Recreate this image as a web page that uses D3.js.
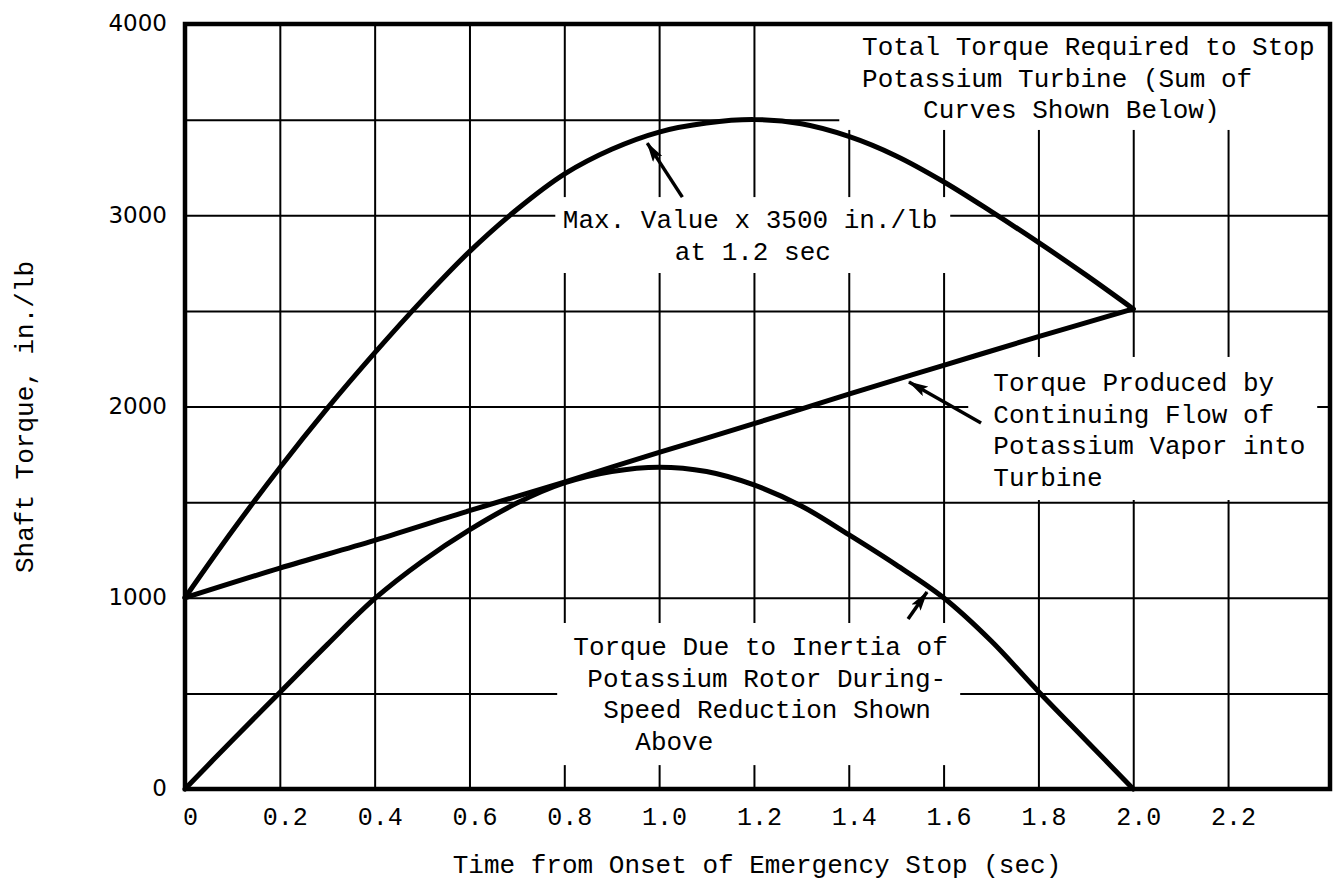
<!DOCTYPE html>
<html>
<head>
  <meta charset="utf-8">
  <title>Shaft Torque during Emergency Stop</title>
  <style>
  body { margin: 0; background: #fff; }
  svg { display: block; }
  .mono { font-family: "Liberation Mono", "DejaVu Sans Mono", monospace; }
  </style>
</head>
<body>
  <svg width="1340" height="880"></svg>
  <script src="https://d3js.org/d3.v7.min.js"></script>
  <script>
    // readings taken off the plot (sec, in./lb)
    var timeSec = [0, 0.1, 0.2, 0.3, 0.4, 0.5, 0.6, 0.7, 0.8, 0.9, 1.0,
                   1.1, 1.2, 1.3, 1.4, 1.5, 1.6, 1.7, 1.8, 1.9, 2.0];
    var totalTorque = [1000, 1350, 1680, 1990, 2280, 2555, 2810, 3030, 3215, 3345, 3435,
                       3482, 3500, 3478, 3412, 3310, 3175, 3020, 2858, 2688, 2510];
    var inertiaTorque = [0, 255, 505, 755, 995, 1190, 1355, 1495, 1600, 1660, 1683,
                         1660, 1590, 1480, 1330, 1172, 1000, 775, 510, 255, 0];
    var flowTime = [0, 0.2, 0.4, 0.6, 0.8, 1.0, 1.2, 1.4, 1.6, 1.8, 2.0];
    var flowTorque = [1000, 1155, 1300, 1455, 1605, 1760, 1910, 2065, 2215, 2365, 2510];

    var xTicks = [0, 0.2, 0.4, 0.6, 0.8, 1.0, 1.2, 1.4, 1.6, 1.8, 2.0, 2.2];
    var xTickLabels = ["0", "0.2", "0.4", "0.6", "0.8", "1.0", "1.2", "1.4", "1.6", "1.8", "2.0", "2.2"];
    var yTicks = [0, 1000, 2000, 3000, 4000];
    var yGrid = [500, 1000, 1500, 2000, 2500, 3000, 3500];
    var xMax = 2.415;

    var svg = d3.select("svg");
    var x = d3.scaleLinear().domain([0, xMax]).range([185, 1330]);
    var y = d3.scaleLinear().domain([0, 4000]).range([789, 24]);
    var plotW = x(xMax) - x(0), plotH = y(0) - y(4000);

    var defs = svg.append("defs");
    defs.append("marker")
      .attr("id", "head")
      .attr("markerUnits", "userSpaceOnUse")
      .attr("viewBox", "0 0 20 11")
      .attr("refX", 19).attr("refY", 5.5)
      .attr("markerWidth", 20).attr("markerHeight", 11)
      .attr("orient", "auto")
      .append("path").attr("d", "M0,0 L20,5.5 L0,11 L4,5.5 Z").attr("fill", "#000");

    // grid
    svg.append("g")
      .attr("transform", "translate(0," + y(0) + ")")
      .call(d3.axisBottom(x).tickValues(xTicks.slice(1)).tickSize(-plotH).tickFormat(""))
      .call(g => g.select(".domain").remove())
      .selectAll("line").attr("stroke", "#000").attr("stroke-width", 2);
    svg.append("g")
      .attr("transform", "translate(" + x(0) + ",0)")
      .call(d3.axisLeft(y).tickValues(yGrid).tickSize(-plotW).tickFormat(""))
      .call(g => g.select(".domain").remove())
      .selectAll("line").attr("stroke", "#000").attr("stroke-width", 2);

    // places where the grid is left blank behind the notes [t0, t1, v0, v1]
    var gaps = [[1.38, xMax, 3446, 4000], [0.781, 1.614, 2698, 3095],
                [1.652, 2.388, 1511, 2259], [0.785, 1.635, 125, 868]];
    svg.append("g").selectAll("rect").data(gaps).join("rect")
      .attr("x", d => x(d[0])).attr("width", d => x(d[1]) - x(d[0]))
      .attr("y", d => y(d[3])).attr("height", d => y(d[2]) - y(d[3]))
      .attr("fill", "#fff");

    // frame
    svg.append("rect")
      .attr("x", x(0)).attr("y", y(4000)).attr("width", plotW).attr("height", plotH)
      .attr("fill", "none").attr("stroke", "#000").attr("stroke-width", 4.5);

    // tick labels
    svg.append("g")
      .attr("transform", "translate(0," + y(0) + ")")
      .call(d3.axisBottom(x).tickValues(xTicks).tickSize(0).tickPadding(0)
        .tickFormat((d, i) => xTickLabels[i]))
      .call(g => g.select(".domain").remove())
      .selectAll("text")
      .attr("class", "mono").attr("font-size", 25).attr("fill", "#000")
      .attr("dx", 5).attr("dy", 0).attr("y", 36);
    svg.append("g")
      .attr("transform", "translate(" + (x(0) - 18) + ",0)")
      .call(d3.axisLeft(y).tickValues(yTicks).tickSize(0).tickPadding(0).tickFormat(d3.format("d")))
      .call(g => g.select(".domain").remove())
      .selectAll("text")
      .attr("font-family", "DejaVu Sans, sans-serif").attr("font-size", 23).attr("fill", "#000")
      .attr("dy", "0.3em");

    // axis titles
    svg.append("text").attr("class", "mono")
      .attr("x", 757).attr("y", 873).attr("text-anchor", "middle")
      .attr("font-size", 26).text("Time from Onset of Emergency Stop (sec)");
    svg.append("text").attr("class", "mono")
      .attr("transform", "translate(33,573) rotate(-90)")
      .attr("font-size", 26).text("Shaft Torque, in./lb");

    // curves
    var line = d3.line().x(d => x(d[0])).y(d => y(d[1])).curve(d3.curveCatmullRom.alpha(0.5));
    var curves = [
      d3.zip(timeSec, totalTorque),
      d3.zip(timeSec, inertiaTorque),
      d3.zip(flowTime, flowTorque)
    ];
    svg.append("g").selectAll("path").data(curves).join("path")
      .attr("d", line).attr("fill", "none").attr("stroke", "#000")
      .attr("stroke-width", 5).attr("stroke-linejoin", "round").attr("stroke-linecap", "round");

    // notes: anchor [t, v] of first baseline, indent in px per line
    var notes = [
      { at: [1.428, 3838], lines: ["Total Torque Required to Stop", "Potassium Turbine (Sum of", "Curves Shown Below)"], indent: [0, 0, 61] },
      { at: [0.797, 2933], lines: ["Max. Value x 3500 in./lb", "at 1.2 sec"], indent: [0, 112] },
      { at: [1.705, 2081], lines: ["Torque Produced by", "Continuing Flow of", "Potassium Vapor into", "Turbine"], indent: [0, 0, 0, 0] },
      { at: [0.819, 701], lines: ["Torque Due to Inertia of", "Potassium Rotor During-", "Speed Reduction Shown", "Above"], indent: [0, 14, 30, 62] }
    ];
    notes.forEach(n => {
      var t = svg.append("text").attr("class", "mono").attr("font-size", 26).attr("fill", "#000");
      n.lines.forEach((s, i) => {
        t.append("tspan")
          .attr("x", x(n.at[0]) + n.indent[i])
          .attr("y", y(n.at[1]) + i * 31.7)
          .text(s);
      });
    });

    // arrows [tail t, tail v, tip t, tip v]
    var arrows = [[1.049, 3095, 0.975, 3377], [1.679, 1914, 1.527, 2128], [1.525, 889, 1.565, 1030]];
    svg.append("g").selectAll("line").data(arrows).join("line")
      .attr("x1", d => x(d[0])).attr("y1", d => y(d[1]))
      .attr("x2", d => x(d[2])).attr("y2", d => y(d[3]))
      .attr("stroke", "#000").attr("stroke-width", 3.5)
      .attr("marker-end", "url(#head)");
  </script>
</body>
</html>
